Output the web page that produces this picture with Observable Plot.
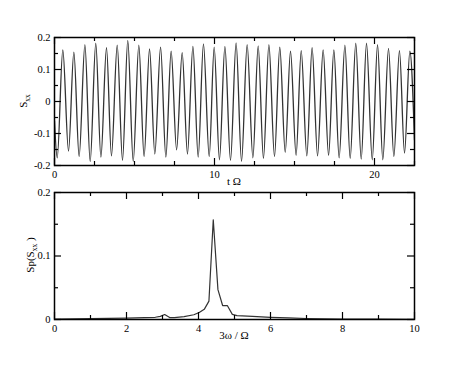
<!DOCTYPE html>
<html><head><meta charset="utf-8">
<script src="https://cdn.jsdelivr.net/npm/d3@7"></script>
<script src="https://cdn.jsdelivr.net/npm/@observablehq/plot@0.6"></script>
<style>
html,body{margin:0;padding:0;background:#fff;}
#wrap{position:relative;width:469px;height:376px;overflow:hidden;background:#fff;}
#wrap svg{position:absolute;left:0;overflow:visible;}
#wrap svg text{font-family:"Liberation Serif","Times New Roman",serif !important;}
</style></head><body><div id="wrap"></div>
<script>
// Top panel: S_xx vs tΩ (extrema)
const timeT = [0,0.17,0.52,0.875,1.21,1.54,1.90,2.23,2.58,2.90,3.25,3.56,3.92,4.25,4.58,4.92,5.27,5.60,5.94,6.27,6.63,6.96,7.29,7.63,7.98,8.31,8.65,8.98,9.31,9.67,9.98,10.31,10.65,11.0,11.35,11.69,12.04,12.40,12.73,13.06,13.40,13.75,14.08,14.42,14.75,15.10,15.42,15.77,16.10,16.44,16.79,17.13,17.46,17.79,18.15,18.48,18.83,19.17,19.5,19.86,20.19,20.52,20.875,21.21,21.56,21.875,22.21,22.5];
const timeS = [-0.06,-0.176,0.161,-0.155,0.154,-0.172,0.178,-0.188,0.182,-0.174,0.168,-0.170,0.176,-0.184,0.191,-0.187,0.176,-0.172,0.164,-0.164,0.170,-0.174,0.157,-0.151,0.153,-0.164,0.172,-0.174,0.180,-0.172,0.170,-0.182,0.172,-0.184,0.183,-0.187,0.178,-0.176,0.174,-0.178,0.178,-0.172,0.170,-0.159,0.157,-0.168,0.159,-0.170,0.168,-0.170,0.161,-0.168,0.161,-0.176,0.176,-0.178,0.182,-0.180,0.182,-0.182,0.178,-0.182,0.166,-0.172,0.159,-0.161,0.157,-0.12];
const topXMajor = [0,10,20];
const topXMinor = [2.5,5,7.5,12.5,15,17.5,22.5];
const topYMajor = [-0.2,-0.1,0,0.1,0.2];
const topYMinor = [-0.15,-0.05,0.05,0.15];

// Bottom panel: spectrum Sp(S_xx) vs 3ω/Ω
const freqX = [0,0.5,1,1.5,2,2.5,2.8,2.94,3.06,3.20,3.33,3.6,3.87,4.02,4.16,4.29,4.41,4.54,4.67,4.80,4.94,5.07,5.5,6,6.5,7,8,9,10];
const specY = [0.0005,0.001,0.0013,0.0018,0.0022,0.0028,0.0035,0.005,0.0079,0.003,0.003,0.0045,0.0075,0.011,0.016,0.029,0.157,0.047,0.022,0.022,0.008,0.006,0.0048,0.0035,0.0025,0.0016,0.0008,0.0005,0.0003];
const botXMajor = [0,2,4,6,8,10];
const botXMinor = [1,3,5,7,9];
const botYMajor = [0,0.1,0.2];
const botYMinor = [0.05,0.15];

const FONT = "Liberation Serif";
const L = 7, S = 4;

function frameTicks(xMaj, xMin, yMaj, yMin, fh, fw) {
  const o = {stroke: "black", strokeWidth: 1.2};
  return [
    Plot.tickX(xMaj, {x: d => d, insetTop: fh - L, ...o}),
    Plot.tickX(xMaj, {x: d => d, insetBottom: fh - L, ...o}),
    Plot.tickX(xMin, {x: d => d, insetTop: fh - S, ...o}),
    Plot.tickX(xMin, {x: d => d, insetBottom: fh - S, ...o}),
    Plot.tickY(yMaj, {y: d => d, insetRight: fw - L, ...o}),
    Plot.tickY(yMaj, {y: d => d, insetLeft: fw - L, ...o}),
    Plot.tickY(yMin, {y: d => d, insetRight: fw - S, ...o}),
    Plot.tickY(yMin, {y: d => d, insetLeft: fw - S, ...o})
  ];
}

const wrap = document.getElementById("wrap");

// ---- top panel
const topData = timeT.map((t, i) => ({t, s: timeS[i]}));
const topH = 190, topMT = 37, topMB = 25, ML = 54, MR = 55;
const fw = 469 - ML - MR;
const topPlot = Plot.plot({
  width: 469, height: topH,
  marginTop: topMT, marginBottom: topMB, marginLeft: ML, marginRight: MR,
  style: {fontFamily: FONT, fontSize: "10px", background: "transparent", overflow: "visible", color: "black"},
  x: {domain: [0, 22.5], axis: null},
  y: {domain: [-0.2, 0.2], axis: null},
  marks: [
    Plot.line(topData, {x: "t", y: "s", curve: "monotone-x", stroke: "#333", strokeWidth: 1.3, clip: true}),
    ...frameTicks(topXMajor, topXMinor, topYMajor, topYMinor, topH - topMT - topMB, fw),
    Plot.frame({stroke: "black", strokeWidth: 1.5}),
    Plot.axisX(topXMajor, {tickSize: 0, tickPadding: 5, tickFormat: d => String(d), fontSize: 10.5, label: null}),
    Plot.axisY(topYMajor, {tickSize: 0, tickPadding: 4, tickFormat: d => String(d), fontSize: 10.5, label: null})
  ]
});
topPlot.style.top = "0px";
wrap.appendChild(topPlot);

// ---- bottom panel
const botData = freqX.map((x, i) => ({x, y: specY[i]}));
const botTop = 190, botH = 186, botMT = 2, botMB = 57;
const botPlot = Plot.plot({
  width: 469, height: botH,
  marginTop: botMT, marginBottom: botMB, marginLeft: ML, marginRight: MR,
  style: {fontFamily: FONT, fontSize: "10px", background: "transparent", overflow: "visible", color: "black"},
  x: {domain: [0, 10], axis: null},
  y: {domain: [0, 0.2], axis: null},
  marks: [
    Plot.line(botData, {x: "x", y: "y", stroke: "#333", strokeWidth: 1.2, clip: true}),
    ...frameTicks(botXMajor, botXMinor, botYMajor, botYMinor, botH - botMT - botMB, fw),
    Plot.frame({stroke: "black", strokeWidth: 1.5}),
    Plot.axisX(botXMajor, {tickSize: 0, tickPadding: 5, tickFormat: d => String(d), fontSize: 10.5, label: null}),
    Plot.axisY(botYMajor, {tickSize: 0, tickPadding: 4, tickFormat: d => String(d), fontSize: 10.5, label: null})
  ]
});
botPlot.style.top = botTop + "px";
wrap.appendChild(botPlot);

// ---- axis titles (real text, with subscripts)
function title(svg, x, y, rot, parts) {
  const t = d3.select(svg).append("text")
    .attr("transform", `translate(${x},${y})` + (rot ? " rotate(-90)" : ""))
    .attr("text-anchor", "middle")
    .attr("font-family", FONT).attr("font-size", 11).attr("fill", "black");
  parts.forEach(p => {
    const ts = t.append("tspan").text(p.text);
    if (p.sub) ts.attr("font-size", 7.5).attr("dy", 3);
    else if (p.after) ts.attr("dy", -3);
  });
}
title(topPlot, 234, 185, false, [{text: "t Ω"}]);
title(topPlot, 27, 101, true, [{text: "S"}, {text: "xx", sub: true}]);
title(botPlot, 234, 339 - botTop, false, [{text: "3ω / Ω"}]);
title(botPlot, 34, 255 - botTop, true, [{text: "Sp(S"}, {text: "xx", sub: true}, {text: " )", after: true}]);
</script>
</body></html>
